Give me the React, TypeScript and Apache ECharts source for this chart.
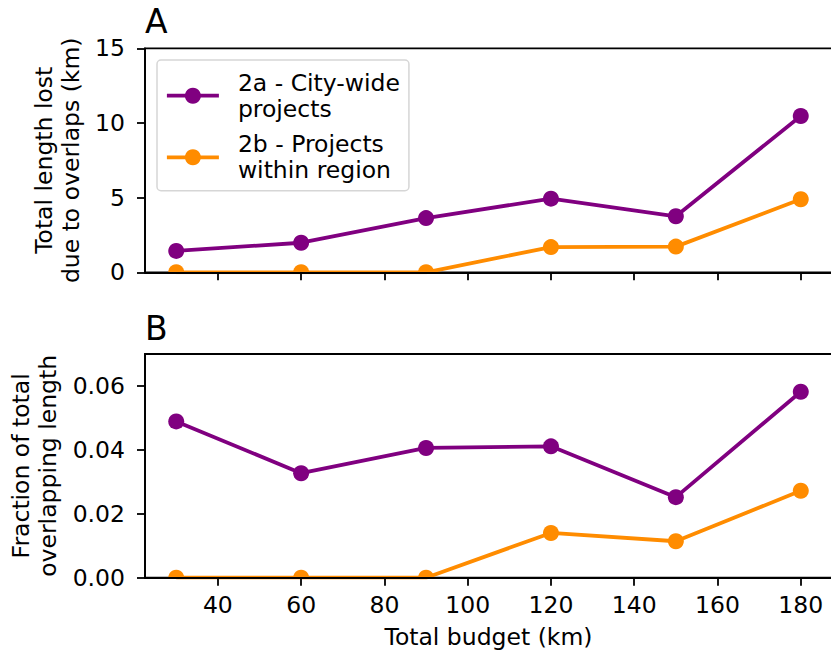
import React, { useEffect, useRef } from "react";
import * as echarts from "echarts";

const budgets = [30, 60, 90, 120, 150, 180];
const lostCityWide = [1.43, 1.98, 3.63, 4.93, 3.75, 10.47];
const lostRegion = [0, 0, 0, 1.69, 1.72, 4.89];
const fracCityWide = [0.0489, 0.0327, 0.0406, 0.0411, 0.0252, 0.0582];
const fracRegion = [0, 0, 0, 0.014, 0.0114, 0.0272];
const xTicks = [40, 60, 80, 100, 120, 140, 160, 180];
const topYTicks = [0, 5, 10, 15];
const bottomYTicks = [0, 0.02, 0.04, 0.06];

const NAME_A = "2a - City-wide\nprojects";
const NAME_B = "2b - Projects\nwithin region";
const PURPLE = "#800080";
const ORANGE = "#ff8c00";
const FONT = "DejaVu Sans";
const FS = 23.5;
const LW = 3.8;

const pairs = (xs: number[], ys: number[]) => xs.map((x, i) => [x, ys[i]]);

function lineSeries(name: string, color: string, data: number[][], idx: number) {
  return {
    type: "line",
    name,
    xAxisIndex: idx,
    yAxisIndex: idx,
    data,
    symbol: "circle",
    showSymbol: false,
    clip: true,
    lineStyle: { color, width: LW },
    itemStyle: { color },
    z: 2,
  };
}

function markerSeries(name: string, color: string, data: number[][], idx: number) {
  return {
    type: "custom",
    name,
    xAxisIndex: idx,
    yAxisIndex: idx,
    data,
    clip: true,
    z: 2,
    renderItem: (params: any, api: any) => {
      const p = api.coord([api.value(0), api.value(1)]);
      return {
        type: "circle",
        shape: { cx: p[0], cy: p[1], r: 8 },
        style: { fill: color },
      };
    },
  };
}

const axisLineStyle = { color: "#000", width: 1.8 };

function xAxis(idx: number, showLabels: boolean) {
  return {
    type: "value",
    gridIndex: idx,
    min: 22.5,
    max: 187.5,
    z: 3,
    splitLine: { show: false },
    axisLine: { show: true, onZero: false, lineStyle: axisLineStyle },
    axisTick: { show: true, length: 8, customValues: xTicks, lineStyle: axisLineStyle },
    axisLabel: {
      show: showLabels,
      customValues: xTicks,
      margin: 15,
      color: "#000",
      fontFamily: FONT,
      fontSize: FS,
    },
    ...(showLabels
      ? {
          name: "Total budget (km)",
          nameLocation: "middle",
          nameGap: 47,
          nameTextStyle: { color: "#000", fontFamily: FONT, fontSize: FS },
        }
      : {}),
  };
}

const legendToken = {
  color: "#000",
  fontFamily: FONT,
  fontSize: FS,
  lineHeight: 26,
  padding: [0, 0, 0, 14],
};

export default function App() {
  const ref = useRef<HTMLDivElement>(null);
  useEffect(() => {
    if (!ref.current) return;
    const chart = echarts.init(ref.current, null, { renderer: "svg" });
    const option: any = {
      animation: false,
      backgroundColor: "#fff",
      title: [
        {
          text: "A",
          left: 145,
          top: 4.5,
          padding: 0,
          textStyle: { fontFamily: FONT, fontSize: 33, fontWeight: "normal", color: "#000" },
        },
        {
          text: "B",
          left: 145,
          top: 311.5,
          padding: 0,
          textStyle: { fontFamily: FONT, fontSize: 33, fontWeight: "normal", color: "#000" },
        },
      ],
      grid: [
        {
          left: 145,
          top: 48.3,
          width: 687,
          height: 224,
          show: true,
          borderColor: "#000",
          borderWidth: 1.8,
          backgroundColor: "transparent",
          containLabel: false,
          outerBoundsMode: "none",
        },
        {
          left: 145,
          top: 354,
          width: 687,
          height: 223.7,
          show: true,
          borderColor: "#000",
          borderWidth: 1.8,
          backgroundColor: "transparent",
          containLabel: false,
          outerBoundsMode: "none",
        },
      ],
      xAxis: [xAxis(0, false), xAxis(1, true)],
      yAxis: [
        {
          type: "value",
          gridIndex: 0,
          min: 0,
          max: 15,
          interval: 5,
          z: 3,
          splitLine: { show: false },
          axisLine: { show: true, onZero: false, lineStyle: axisLineStyle },
          axisTick: { show: true, length: 8, customValues: topYTicks, lineStyle: axisLineStyle },
          axisLabel: {
            customValues: topYTicks,
            margin: 20,
            color: "#000",
            fontFamily: FONT,
            fontSize: FS,
          },
          name: "Total length lost\ndue to overlaps (km)",
          nameLocation: "middle",
          nameRotate: 90,
          nameGap: 56,
          nameTextStyle: { color: "#000", fontFamily: FONT, fontSize: FS, lineHeight: 27 },
        },
        {
          type: "value",
          gridIndex: 1,
          min: 0,
          max: 0.07,
          z: 3,
          splitLine: { show: false },
          axisLine: { show: true, onZero: false, lineStyle: axisLineStyle },
          axisTick: { show: true, length: 8, customValues: bottomYTicks, lineStyle: axisLineStyle },
          axisLabel: {
            customValues: bottomYTicks,
            margin: 20,
            color: "#000",
            fontFamily: FONT,
            fontSize: FS,
            formatter: (v: number) => v.toFixed(2),
          },
          name: "Fraction of total\noverlapping length",
          nameLocation: "middle",
          nameRotate: 90,
          nameGap: 75,
          nameTextStyle: { color: "#000", fontFamily: FONT, fontSize: FS, lineHeight: 27 },
        },
      ],
      legend: {
        data: [NAME_A, NAME_B],
        orient: "vertical",
        left: 157,
        top: 60,
        padding: [9.7, 9, 7.4, 8],
        itemGap: 9.6,
        itemWidth: 52,
        itemHeight: 20,
        selectedMode: false,
        backgroundColor: "#fff",
        borderColor: "#d6d6d6",
        borderWidth: 1.5,
        borderRadius: 4,
        lineStyle: { width: LW },
        formatter: (name: string) => {
          const parts = name.split("\n");
          return `{t|${parts[0]}}\n{t|${parts[1]}}`;
        },
        textStyle: {
          color: "#000",
          fontFamily: FONT,
          fontSize: FS,
          lineHeight: 26,
          rich: { t: legendToken },
        },
      },
      series: [
        lineSeries(NAME_A, PURPLE, pairs(budgets, lostCityWide), 0),
        markerSeries("markers-a-top", PURPLE, pairs(budgets, lostCityWide), 0),
        lineSeries(NAME_B, ORANGE, pairs(budgets, lostRegion), 0),
        markerSeries("markers-b-top", ORANGE, pairs(budgets, lostRegion), 0),
        lineSeries(NAME_A, PURPLE, pairs(budgets, fracCityWide), 1),
        markerSeries("markers-a-bottom", PURPLE, pairs(budgets, fracCityWide), 1),
        lineSeries(NAME_B, ORANGE, pairs(budgets, fracRegion), 1),
        markerSeries("markers-b-bottom", ORANGE, pairs(budgets, fracRegion), 1),
      ],
    };
    chart.setOption(option);
    return () => chart.dispose();
  }, []);
  return (
    <div
      ref={ref}
      style={{ position: "fixed", left: 0, top: 0, width: 831, height: 655, background: "#fff" }}
    />
  );
}
